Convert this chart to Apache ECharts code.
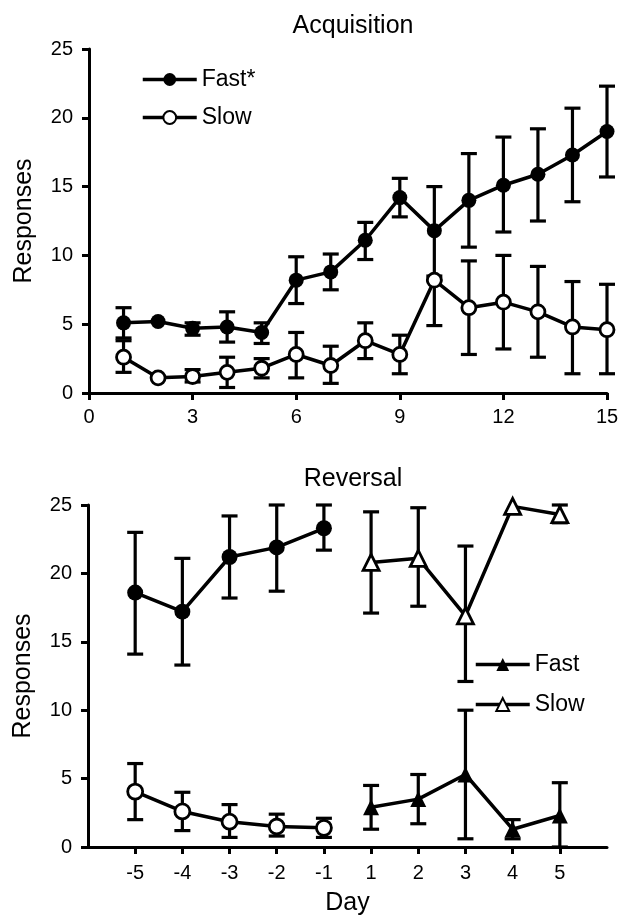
<!DOCTYPE html>
<html>
<head>
<meta charset="utf-8">
<script src="https://cdn.jsdelivr.net/npm/echarts@6/dist/echarts.min.js"></script>
<style>
html,body{margin:0;padding:0;background:#fff;}
#main{width:628px;height:917px;}
</style>
</head>
<body>
<div id="main"></div>
<script>
// Acquisition data (day 1-15)
var acqDays = [1,2,3,4,5,6,7,8,9,10,11,12,13,14,15];
var acqFast = [5.1,5.2,4.7,4.8,4.4,8.2,8.8,11.1,14.2,11.8,14.0,15.1,15.9,17.3,19.0];
var acqFastLow = [4.0,5.2,4.2,3.7,3.6,6.5,7.5,9.7,12.8,8.5,10.6,11.7,12.5,13.9,15.7];
var acqFastHigh = [6.2,5.2,5.1,5.9,5.1,9.9,10.1,12.4,15.6,15.0,17.4,18.6,19.2,20.7,22.3];
var acqSlow = [2.6,1.1,1.2,1.5,1.8,2.8,2.0,3.8,2.8,8.2,6.2,6.6,5.9,4.8,4.6];
var acqSlowLow = [1.5,1.1,0.8,0.4,1.1,1.1,0.7,2.5,1.4,4.9,2.8,3.2,2.6,1.4,1.4];
var acqSlowHigh = [3.8,1.1,1.7,2.6,2.5,4.4,3.4,5.1,4.2,8.2,9.6,10.0,9.2,8.1,7.9];

// Reversal data
var revDays = ['-5','-4','-3','-2','-1','1','2','3','4','5'];
var preFast = [18.6,17.2,21.2,21.9,23.3];
var preFastLow = [14.1,13.3,18.2,18.7,21.7];
var preFastHigh = [23.0,21.1,24.2,25.0,25.0];
var preSlow = [4.05,2.6,1.85,1.5,1.4];
var preSlowLow = [2.0,1.2,0.7,0.8,0.7];
var preSlowHigh = [6.1,4.0,3.1,2.4,2.1];
var postFast = [2.9,3.5,5.3,1.3,2.3];
var postFastLow = [1.3,1.7,0.6,0.6,0];
var postFastHigh = [4.5,5.3,10.0,2.0,4.7];
var postSlow = [20.8,21.1,16.9,24.9,24.3];
var postSlowLow = [17.1,17.6,12.1,24.9,23.7];
var postSlowHigh = [24.5,24.8,22.0,24.9,25.0];

var FONT = 'Liberation Sans';
var chart = echarts.init(document.getElementById('main'), null, {renderer:'canvas'});

// position of each reversal day on the value axis (1..10, no gap)
function revPos(i){ return i + 1; }

function pts(xs, ys){
	var out = [];
	for (var i = 0; i < ys.length; i++) out.push([xs[i], ys[i]]);
	return out;
}
function errs(xs, lo, hi){
	var out = [];
	for (var i = 0; i < lo.length; i++) out.push([xs[i], lo[i], hi[i]]);
	return out;
}
var prePos = [], postPos = [];
for (var i = 0; i < 5; i++){ prePos.push(revPos(i)); postPos.push(revPos(i+5)); }

function renderErr(params, api){
	var x = api.value(0), lo = api.value(1), hi = api.value(2);
	if (hi - lo < 0.05) return;
	var p1 = api.coord([x, lo]);
	var p2 = api.coord([x, hi]);
	var w = 8;
	var st = {stroke:'#000', lineWidth:3.2};
	return {
		type:'group',
		children:[
			{type:'line', shape:{x1:p1[0],y1:p1[1],x2:p2[0],y2:p2[1]}, style:st},
			{type:'line', shape:{x1:p1[0]-w,y1:p1[1],x2:p1[0]+w,y2:p1[1]}, style:st},
			{type:'line', shape:{x1:p2[0]-w,y1:p2[1],x2:p2[0]+w,y2:p2[1]}, style:st}
		]
	};
}

function errSeries(data, idx){
	return {type:'custom', xAxisIndex:idx, yAxisIndex:idx, renderItem:renderErr, data:data, z:1, silent:true, clip:false};
}
function lineSeries(name, data, idx, symbol, filled, size){
	return {
		name:name, type:'line', xAxisIndex:idx, yAxisIndex:idx, data:data,
		symbol:symbol, symbolSize:size, showAllSymbol:true, z:3,
		lineStyle:{color:'#000', width:3.5},
		itemStyle:{color: filled ? '#000' : '#fff', borderColor:'#000', borderWidth: filled ? 0 : 2.8, opacity:1},
		emphasis:{disabled:true}
	};
}

var axisLineSt = {show:true, onZero:false, lineStyle:{color:'#000', width:3}};
var axisTickSt = {show:true, length:7, lineStyle:{color:'#000', width:3}};
function labelSt(margin){
	return {color:'#000', fontFamily:FONT, fontSize:20, margin:margin};
}
var nameSt = {fontFamily:FONT, fontSize:25, color:'#000'};

var option = {
	animation:false,
	backgroundColor:'#fff',
	title:[
		{text:'Acquisition', left:348, top:9, textAlign:'center', textStyle:{fontFamily:FONT, fontSize:25, fontWeight:'normal', color:'#000'}},
		{text:'Reversal', left:348, top:462, textAlign:'center', textStyle:{fontFamily:FONT, fontSize:25, fontWeight:'normal', color:'#000'}}
	],
	legend:[
		{data:['Fast*','Slow'], orient:'vertical', left:136, top:63, itemWidth:54, itemHeight:16, itemGap:15,
		 lineStyle:{width:3.5, color:'#000'},
		 textStyle:{fontFamily:FONT, fontSize:23, color:'#000'}, selectedMode:false},
		{data:['Fast','Slow (rev)'], orient:'vertical', left:469, top:648, itemWidth:54, itemHeight:16, itemGap:17,
		 lineStyle:{width:3.5, color:'#000'},
		 formatter:function(n){ return n === 'Slow (rev)' ? 'Slow' : n; },
		 textStyle:{fontFamily:FONT, fontSize:23, color:'#000'}, selectedMode:false}
	],
	grid:[
		{left:89, top:49, width:518, height:344},
		{left:88, top:505, width:519, height:342}
	],
	xAxis:[
		{gridIndex:0, type:'value', min:0, max:15, interval:3,
		 axisLine:axisLineSt, axisTick:axisTickSt, splitLine:{show:false}, axisLabel:labelSt(14)},
		{gridIndex:1, type:'value', min:0, max:11, interval:1,
		 name:'Day', nameLocation:'middle', nameGap:44, nameTextStyle:nameSt,
		 axisLine:axisLineSt, splitLine:{show:false},
		 axisTick:{show:true, length:7, lineStyle:{color:'#000', width:3}, customValues:prePos.concat(postPos)},
		 axisLabel:{color:'#000', fontFamily:FONT, fontSize:20, margin:16,
			customValues:prePos.concat(postPos),
			formatter:function(v){ return revDays[Math.round(v) - 1]; }}}
	],
	yAxis:[
		{gridIndex:0, type:'value', min:0, max:25, interval:5,
		 name:'Responses', nameLocation:'middle', nameGap:52, nameTextStyle:nameSt,
		 axisLine:axisLineSt, axisTick:axisTickSt, splitLine:{show:false}, axisLabel:labelSt(16)},
		{gridIndex:1, type:'value', min:0, max:25, interval:5,
		 name:'Responses', nameLocation:'middle', nameGap:52, nameTextStyle:nameSt,
		 axisLine:axisLineSt, axisTick:axisTickSt, splitLine:{show:false}, axisLabel:labelSt(16)}
	],
	series:[
		errSeries(errs(acqDays, acqFastLow, acqFastHigh), 0),
		errSeries(errs(acqDays, acqSlowLow, acqSlowHigh), 0),
		lineSeries('Fast*', pts(acqDays, acqFast), 0, 'circle', true, 15),
		lineSeries('Slow', pts(acqDays, acqSlow), 0, 'circle', false, 14),

		errSeries(errs(prePos, preFastLow, preFastHigh), 1),
		errSeries(errs(prePos, preSlowLow, preSlowHigh), 1),
		errSeries(errs(postPos, postFastLow, postFastHigh), 1),
		errSeries(errs(postPos, postSlowLow, postSlowHigh), 1),
		lineSeries('Fast pre', pts(prePos, preFast), 1, 'circle', true, 16),
		lineSeries('Slow pre', pts(prePos, preSlow), 1, 'circle', false, 15),
		lineSeries('Fast', pts(postPos, postFast), 1, 'triangle', true, 16),
		lineSeries('Slow (rev)', pts(postPos, postSlow), 1, 'triangle', false, 16)
	]
};

chart.setOption(option);
</script>
</body>
</html>
